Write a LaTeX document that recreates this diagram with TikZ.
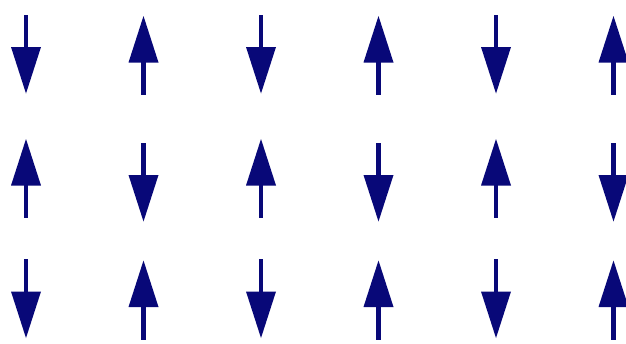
\documentclass[tikz,border=0pt]{standalone}
\definecolor{spinblue}{RGB}{8,8,120}
\tikzset{
  spinpart/.style={fill=spinblue,draw=none},
  pics/spindown/.style={code={
    \fill[spinpart] (-2.3,-39.5) rectangle (2.3,-6);
    \fill[spinpart] (-15,-7) -- (15,-7) -- (0,39.5) -- cycle;
  }},
  pics/spinup/.style={code={
    \fill[spinpart] (-2.3,39.5) rectangle (2.3,6);
    \fill[spinpart] (-15,7) -- (15,7) -- (0,-39.5) -- cycle;
  }}
}
\begin{document}
\begin{tikzpicture}[x=1pt,y=-1pt]
\useasboundingbox[fill=white] (0,0) rectangle (626,343);
\clip (0,0) rectangle (626,343);
\foreach \cx [count=\i] in {26,143.5,261,378.5,496,613.5}{
  \pgfmathparse{int(mod(\i,2))}
  \ifnum\pgfmathresult=1
    \pic at (\cx,54) {spindown};
    \pic at (\cx,178.5) {spinup};
    \pic at (\cx,298.5) {spindown};
  \else
    \pic at (\cx,55.5) {spinup};
    \pic at (\cx,182) {spindown};
    \pic at (\cx,300) {spinup};
  \fi
}
\end{tikzpicture}
\end{document}
